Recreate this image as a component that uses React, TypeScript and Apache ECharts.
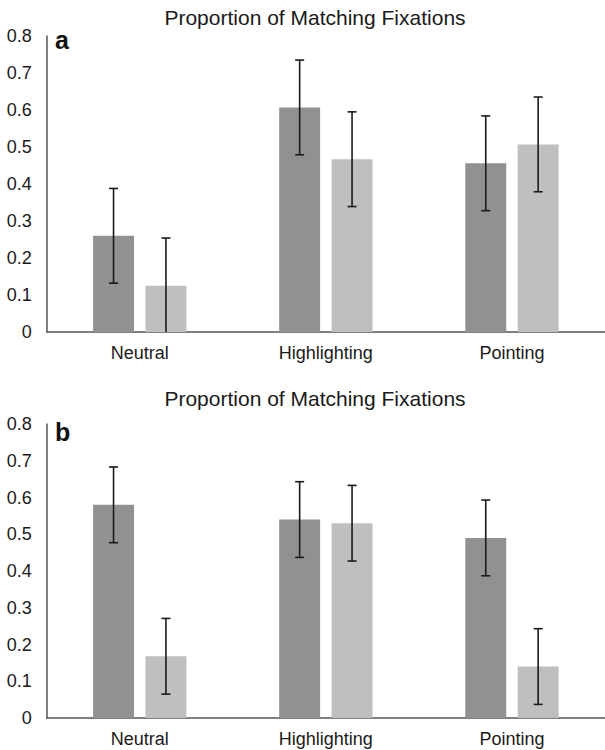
import React, { useEffect, useRef } from "react";
import * as echarts from "echarts";

const categories = ["Neutral", "Highlighting", "Pointing"];
const titleText = "Proportion of Matching Fixations";
const panelLetters = ["a", "b"];

// panel a
const aDark = [0.26, 0.607, 0.456];
const aDarkErr = [0.128, 0.128, 0.128];
const aLight = [0.125, 0.467, 0.507];
const aLightErr = [0.129, 0.128, 0.128];

// panel b
const bDark = [0.58, 0.54, 0.49];
const bDarkErr = [0.103, 0.103, 0.103];
const bLight = [0.168, 0.53, 0.14];
const bLightErr = [0.103, 0.103, 0.103];

const yMin = 0;
const yMax = 0.8;
const yStep = 0.1;

const DARK = "#919191";
const LIGHT = "#bfbfbf";
const FONT = "'Liberation Sans', Arial, sans-serif";
const BAR_W = 0.22;
const BAR_GAP = 0.28;

function errData(vals: number[], errs: number[], side: number) {
  return vals.map((v, i) => [i, Math.max(0, v - errs[i]), v + errs[i], side, v - errs[i] >= 0 ? 1 : 0]);
}

function renderErr(params: any, api: any) {
  const ci = api.value(0);
  const lo = api.value(1);
  const hi = api.value(2);
  const side = api.value(3);
  const showLow = api.value(4);
  const band = api.size([1, 0])[0];
  const bw = band * BAR_W;
  const off = (side * bw * (1 + BAR_GAP)) / 2;
  const top = api.coord([ci, hi]);
  const bot = api.coord([ci, lo]);
  const x = top[0] + off;
  const st = { stroke: "#1a1a1a", lineWidth: 1.6 };
  const cap = 4.5;
  const children: any[] = [
    { type: "line", shape: { x1: x, y1: top[1], x2: x, y2: bot[1] }, style: st },
    { type: "line", shape: { x1: x - cap, y1: top[1], x2: x + cap, y2: top[1] }, style: st },
  ];
  if (showLow) {
    children.push({ type: "line", shape: { x1: x - cap, y1: bot[1], x2: x + cap, y2: bot[1] }, style: st });
  }
  return { type: "group", children };
}

export default function App() {
  const ref = useRef<HTMLDivElement>(null);
  useEffect(() => {
    if (!ref.current) return;
    const chart = echarts.init(ref.current, null, { renderer: "svg" });
    const grids = [
      { left: 46.7, top: 36, width: 567.4, height: 296 },
      { left: 46.7, top: 424, width: 567.4, height: 294 },
    ];
    const xAxes = grids.map((_, gi) => ({
      type: "category",
      gridIndex: gi,
      data: categories,
      axisTick: { show: false },
      axisLine: { lineStyle: { color: "#555555", width: 1.5 } },
      axisLabel: { color: "#1a1a1a", fontSize: 18, fontFamily: FONT, margin: 12 },
    }));
    const yAxes = grids.map((_, gi) => ({
      type: "value",
      gridIndex: gi,
      min: yMin,
      max: yMax,
      interval: yStep,
      splitLine: { show: false },
      axisTick: { show: false },
      axisLine: { show: true, lineStyle: { color: "#555555", width: 1.5 } },
      axisLabel: { color: "#1a1a1a", fontSize: 18, fontFamily: FONT, margin: 15 },
    }));
    const panels = [
      [aDark, aDarkErr, aLight, aLightErr],
      [bDark, bDarkErr, bLight, bLightErr],
    ];
    const series: any[] = [];
    panels.forEach(([dark, darkErr, light, lightErr], gi) => {
      series.push(
        {
          type: "bar",
          xAxisIndex: gi,
          yAxisIndex: gi,
          data: dark,
          barWidth: BAR_W * 100 + "%",
          barGap: BAR_GAP * 100 + "%",
          itemStyle: { color: DARK },
        },
        {
          type: "bar",
          xAxisIndex: gi,
          yAxisIndex: gi,
          data: light,
          barWidth: BAR_W * 100 + "%",
          barGap: BAR_GAP * 100 + "%",
          itemStyle: { color: LIGHT },
        },
        {
          type: "custom",
          xAxisIndex: gi,
          yAxisIndex: gi,
          data: errData(dark, darkErr, -1),
          renderItem: renderErr,
          z: 10,
        },
        {
          type: "custom",
          xAxisIndex: gi,
          yAxisIndex: gi,
          data: errData(light, lightErr, 1),
          renderItem: renderErr,
          z: 10,
        }
      );
    });
    const titleYs = [17, 398];
    const letterYs = [40, 432];
    const graphic: any[] = [];
    titleYs.forEach((ty, i) => {
      graphic.push({
        type: "text",
        x: 315,
        y: ty,
        style: {
          text: titleText,
          fontSize: 21,
          fontFamily: FONT,
          fill: "#1a1a1a",
          align: "center",
          verticalAlign: "middle",
        },
      });
      graphic.push({
        type: "text",
        x: 55,
        y: letterYs[i],
        style: {
          text: panelLetters[i],
          fontSize: 25,
          fontWeight: "bold",
          fontFamily: FONT,
          fill: "#111111",
          align: "left",
          verticalAlign: "middle",
        },
      });
    });
    chart.setOption({
      animation: false,
      backgroundColor: "#ffffff",
      grid: grids,
      xAxis: xAxes,
      yAxis: yAxes,
      series,
      graphic,
    });
    return () => chart.dispose();
  }, []);
  return (
    <div
      ref={ref}
      style={{ position: "absolute", left: 0, top: 0, width: 605, height: 750, background: "#fff" }}
    />
  );
}
